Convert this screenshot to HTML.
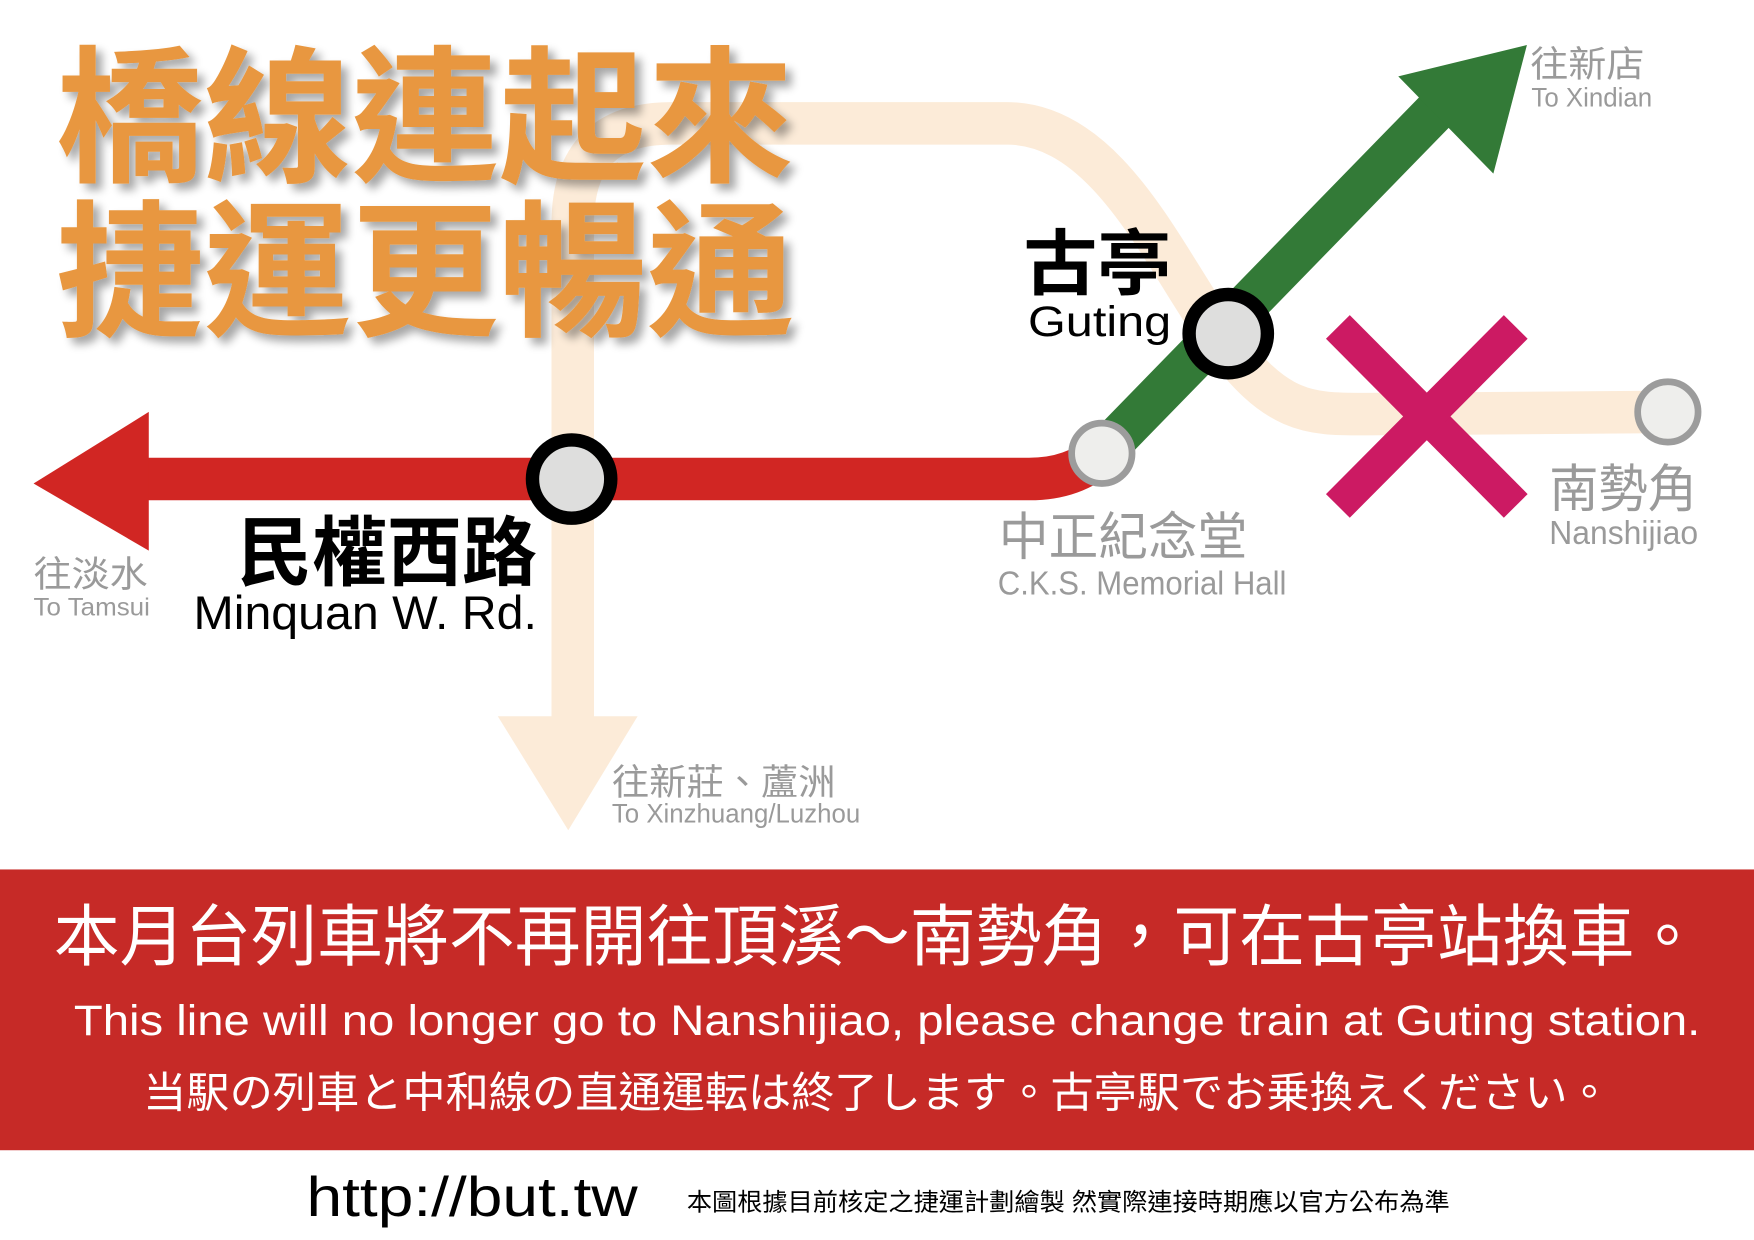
<!DOCTYPE html>
<html><head><meta charset="utf-8"><style>
html,body{margin:0;padding:0;background:#fff;}
svg{display:block;}
text{font-family:"Liberation Sans","Noto Sans CJK TC",sans-serif;}
</style></head><body>
<svg width="1754" height="1240" viewBox="0 0 1568 1108" xmlns="http://www.w3.org/2000/svg">
<defs>
<filter id="sh" x="-5%" y="-5%" width="115%" height="120%"><feGaussianBlur in="SourceAlpha" stdDeviation="4"/><feOffset dx="6" dy="6"/><feComponentTransfer><feFuncA type="linear" slope="0.35"/></feComponentTransfer><feMerge><feMergeNode/><feMergeNode in="SourceGraphic"/></feMerge></filter>
</defs>
<rect width="1568" height="1108" fill="#fff"/>
<!-- beige line -->
<path d="M512,645 L512,200 Q512,110 600,110 L900,110 C990,110 1040,230 1090,300 C1140,370 1170,370 1220,370 L1490,368" fill="none" stroke="#fcebd8" stroke-width="38"/>
<polygon points="445,640 570,640 508,742" fill="#fcebd8"/>
<!-- title -->
<g filter="url(#sh)" fill="#e8973f" font-weight="bold" font-size="132" style="font-family:'Noto Sans CJK TC',sans-serif">
<text x="50" y="152" textLength="660" lengthAdjust="spacingAndGlyphs">橋線連起來</text>
<text x="50" y="290" textLength="660" lengthAdjust="spacingAndGlyphs">捷運更暢通</text>
</g>
<!-- red line -->
<path d="M120,428 L920,428 Q960,428 985,405" fill="none" stroke="#d12623" stroke-width="38"/>
<polygon points="30,432 133,368 133,492" fill="#d12623"/>
<!-- green line -->
<line x1="985" y1="405" x2="1290" y2="92" stroke="#337a37" stroke-width="38"/>
<polygon points="1365,40 1250,68 1335,155" fill="#337a37"/>
<!-- X -->
<line x1="1196" y1="292" x2="1355" y2="452" stroke="#cc1a63" stroke-width="30"/>
<line x1="1355" y1="292" x2="1196" y2="452" stroke="#cc1a63" stroke-width="30"/>
<!-- stations -->
<circle cx="511" cy="428" r="35" fill="#dededd" stroke="#000" stroke-width="12"/>
<circle cx="1098" cy="298" r="35" fill="#dededd" stroke="#000" stroke-width="12"/>
<circle cx="985" cy="405" r="27" fill="#eeeeec" stroke="#9c9c9c" stroke-width="6"/>
<circle cx="1491" cy="368" r="27" fill="#eeeeec" stroke="#9c9c9c" stroke-width="6"/>
<!-- labels -->
<text x="915" y="258" font-size="64" font-weight="bold" fill="#000" style="font-family:'Noto Sans CJK TC',sans-serif" textLength="132" lengthAdjust="spacingAndGlyphs">古亭</text>
<text x="919" y="300" font-size="38" fill="#000" textLength="128" lengthAdjust="spacingAndGlyphs">Guting</text>
<text x="212" y="518" font-size="68" font-weight="bold" fill="#000" style="font-family:'Noto Sans CJK TC',sans-serif" textLength="268" lengthAdjust="spacingAndGlyphs">民權西路</text>
<text x="173" y="562" font-size="42" fill="#000" textLength="307" lengthAdjust="spacingAndGlyphs">Minquan W. Rd.</text>
<g fill="#9a9a9a">
<text x="30" y="524" font-size="32" textLength="102" lengthAdjust="spacingAndGlyphs">往淡水</text>
<text x="30" y="550" font-size="22" textLength="104" lengthAdjust="spacingAndGlyphs">To Tamsui</text>
<text x="1368" y="68" font-size="32" textLength="102" lengthAdjust="spacingAndGlyphs">往新店</text>
<text x="1369" y="95" font-size="24" textLength="108" lengthAdjust="spacingAndGlyphs">To Xindian</text>
<text x="893" y="496" font-size="46" textLength="222" lengthAdjust="spacingAndGlyphs">中正紀念堂</text>
<text x="892" y="531" font-size="30" textLength="258" lengthAdjust="spacingAndGlyphs">C.K.S. Memorial Hall</text>
<text x="1385" y="453" font-size="46" textLength="132" lengthAdjust="spacingAndGlyphs">南勢角</text>
<text x="1385" y="486" font-size="30" textLength="133" lengthAdjust="spacingAndGlyphs">Nanshijiao</text>
<text x="547" y="710" font-size="32" textLength="200" lengthAdjust="spacingAndGlyphs">往新莊、蘆洲</text>
<text x="547" y="735" font-size="24" textLength="222" lengthAdjust="spacingAndGlyphs">To Xinzhuang/Luzhou</text>
</g>
<!-- red band -->
<rect x="0" y="777" width="1568" height="251" fill="#c62a27"/>
<g fill="#fff">
<text x="48" y="858" font-size="60" textLength="1472" lengthAdjust="spacingAndGlyphs">本月台列車將不再開往頂溪～南勢角，可在古亭站換車。</text>
<text x="66" y="925" font-size="38" textLength="1454" lengthAdjust="spacingAndGlyphs">This line will no longer go to Nanshijiao, please change train at Guting station.</text>
<text x="128" y="990" font-size="38" textLength="1312" lengthAdjust="spacingAndGlyphs">当駅の列車と中和線の直通運転は終了します。古亭駅でお乗換えください。</text>
</g>
<text x="274" y="1087" font-size="50" fill="#000" textLength="296" lengthAdjust="spacingAndGlyphs">http://but.tw</text>
<text x="614" y="1082" font-size="22" fill="#000" textLength="682" lengthAdjust="spacingAndGlyphs">本圖根據目前核定之捷運計劃繪製  然實際連接時期應以官方公布為準</text>
</svg>
</body></html>
